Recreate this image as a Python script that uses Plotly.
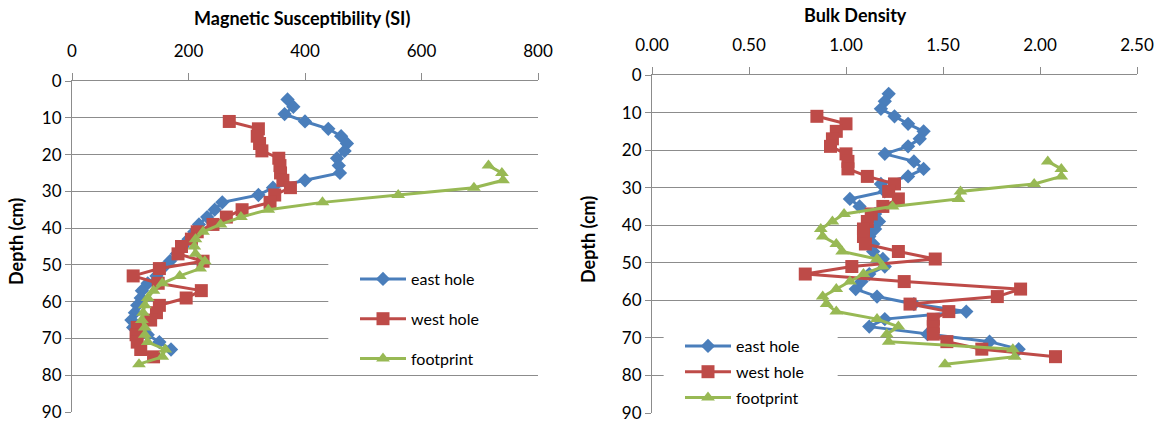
import plotly.graph_objects as go

# ---------------- data ----------------
# Magnetic susceptibility (SI) vs depth (cm)
ms_east_depth = [5, 7, 9, 11, 13, 15, 17, 19, 21, 23, 25, 27, 29, 31, 33, 35, 37, 39, 41, 43,
                 45, 47, 49, 51, 53, 55, 57, 59, 61, 63, 65, 67, 69, 71, 73]
ms_east = [370, 380, 365, 400, 440, 462, 472, 468, 455, 458, 460, 400, 345, 320, 258, 245, 232, 218, 210, 200,
           190, 180, 168, 155, 145, 130, 120, 118, 112, 108, 102, 105, 130, 150, 170]

ms_west_depth = [11, 13, 15, 17, 19, 21, 23, 25, 27, 29, 31, 33, 35, 37, 39, 41, 43, 45, 47, 49,
                 51, 53, 55, 57, 59, 61, 63, 65, 67, 69, 71, 73, 75]
ms_west = [270, 320, 318, 322, 326, 355, 357, 358, 362, 375, 348, 340, 292, 265, 242, 215, 205, 188, 182, 225,
           150, 105, 148, 222, 196, 150, 145, 135, 112, 110, 112, 118, 140]

ms_foot_depth = [23, 25, 27, 29, 31, 33, 35, 37, 39, 41, 43, 45, 47, 49, 51, 53, 55, 57, 59, 61,
                 63, 65, 67, 69, 71, 73, 75, 77]
ms_foot = [715, 738, 740, 690, 560, 430, 337, 290, 255, 225, 212, 210, 212, 228, 220, 185, 155, 140, 130, 125,
           122, 120, 125, 125, 130, 160, 155, 115]

# Bulk density vs depth (cm)
bd_east_depth = ms_east_depth
bd_east = [1.22, 1.20, 1.18, 1.25, 1.32, 1.40, 1.38, 1.32, 1.20, 1.35, 1.40, 1.32, 1.18, 1.20, 1.02, 1.07, 1.15,
           1.17, 1.15, 1.12, 1.14, 1.14, 1.19, 1.20, 1.12, 1.08, 1.05, 1.16, 1.35, 1.62, 1.20, 1.12, 1.42, 1.74, 1.89]

bd_west_depth = ms_west_depth
bd_west = [0.85, 1.00, 0.95, 0.93, 0.92, 1.00, 1.01, 1.01, 1.11, 1.25, 1.22, 1.27, 1.19, 1.13, 1.11, 1.09, 1.09,
           1.10, 1.27, 1.46, 1.03, 0.79, 1.30, 1.90, 1.78, 1.33, 1.53, 1.45, 1.45, 1.45, 1.52, 1.70, 2.08]

bd_foot_depth = ms_foot_depth
bd_foot = [2.04, 2.11, 2.11, 1.97, 1.59, 1.58, 1.24, 0.99, 0.93, 0.87, 0.88, 0.95, 0.98, 1.16, 1.19, 1.09, 1.02,
           0.95, 0.88, 0.90, 0.95, 1.16, 1.27, 1.21, 1.22, 1.86, 1.87, 1.51]

series_names = ["east hole", "west hole", "footprint"]
ms_ticks = [0, 200, 400, 600, 800]
bd_ticks = [0.0, 0.5, 1.0, 1.5, 2.0, 2.5]
depth_ticks = [0, 10, 20, 30, 40, 50, 60, 70, 80, 90]

# ---------------- styling ----------------
W, H = 1162, 427
FONT = "Lato"
BLUE, RED, GREEN = "#4A7EBB", "#BE4B48", "#98B954"
GRID = "#8C8C8C"
styles = [
    dict(color=BLUE, symbol="diamond", size=11),
    dict(color=RED, symbol="square", size=13),
    dict(color=GREEN, symbol="triangle-up", size=12),
]

fig = go.Figure()

ms_sets = [(ms_east, ms_east_depth), (ms_west, ms_west_depth), (ms_foot, ms_foot_depth)]
bd_sets = [(bd_east, bd_east_depth), (bd_west, bd_west_depth), (bd_foot, bd_foot_depth)]

for i, (xs, ys) in enumerate(ms_sets):
    st = styles[i]
    fig.add_trace(go.Scatter(
        x=xs, y=ys, mode="lines+markers", name=series_names[i],
        line=dict(color=st["color"], width=3),
        marker=dict(color=st["color"], symbol=st["symbol"], size=st["size"]),
        xaxis="x", yaxis="y", legend="legend", legendgroup="a%d" % i,
    ))
for i, (xs, ys) in enumerate(bd_sets):
    st = styles[i]
    fig.add_trace(go.Scatter(
        x=xs, y=ys, mode="lines+markers", name=series_names[i],
        line=dict(color=st["color"], width=3),
        marker=dict(color=st["color"], symbol=st["symbol"], size=st["size"]),
        xaxis="x2", yaxis="y2", legend="legend2", legendgroup="b%d" % i,
    ))

def px_x(p):
    return p / W

def px_y(p):
    return 1 - p / H

xaxis_common = dict(side="top", showgrid=False, zeroline=False, showline=True, linecolor=GRID,
                    linewidth=1, ticks="outside", ticklen=7, tickcolor=GRID, automargin=False,
                    tickfont=dict(family=FONT, size=17, color="#000"), ticklabelstandoff=9)
yaxis_common = dict(autorange=False, range=[90, 0], tickvals=depth_ticks, showgrid=True, gridcolor=GRID,
                    gridwidth=1, zeroline=False, showline=True, linecolor=GRID, linewidth=1,
                    ticks="outside", ticklen=6, tickcolor=GRID, automargin=False,
                    tickfont=dict(family=FONT, size=17, color="#000"))

title_font = dict(family=FONT, size=18, color="#000")

# white legend boxes that interrupt the gridlines (drawn between grid and traces)
legend_boxes = [
    dict(type="rect", xref="x", yref="y", x0=440, x1=800, y0=46, y1=77,
         fillcolor="white", line=dict(width=0), layer="between"),
    dict(type="rect", xref="x2", yref="y2", x0=0.06, x1=0.957, y0=66, y1=89.6,
         fillcolor="white", line=dict(width=0), layer="between"),
]

fig.update_layout(
    width=W, height=H,
    margin=dict(l=0, r=0, t=0, b=0),
    paper_bgcolor="white", plot_bgcolor="white",
    font=dict(family=FONT, color="#000"),
    xaxis=dict(domain=[px_x(72), px_x(538)], range=[0, 800], tickvals=ms_ticks, anchor="y", **xaxis_common),
    yaxis=dict(domain=[px_y(412), px_y(81)], anchor="x", **yaxis_common),
    xaxis2=dict(domain=[px_x(652), px_x(1137)], range=[0, 2.5], tickvals=bd_ticks, tickformat=".2f",
                anchor="y2", **xaxis_common),
    yaxis2=dict(domain=[px_y(413), px_y(75)], anchor="x2", **yaxis_common),
    legend=dict(x=px_x(355), y=px_y(262), xanchor="left", yanchor="top", bgcolor="rgba(0,0,0,0)",
                font=dict(family=FONT, size=16), tracegroupgap=16, itemwidth=46),
    legend2=dict(x=px_x(680), y=px_y(329), xanchor="left", yanchor="top", bgcolor="rgba(0,0,0,0)",
                 font=dict(family=FONT, size=16), tracegroupgap=2, itemwidth=46),
    shapes=legend_boxes,
    annotations=[
        dict(text="<b>Magnetic Susceptibility (SI)</b>", x=px_x(302), y=px_y(18), xref="paper", yref="paper",
             xanchor="center", yanchor="middle", showarrow=False, font=title_font),
        dict(text="<b>Bulk Density</b>", x=px_x(855), y=px_y(15), xref="paper", yref="paper",
             xanchor="center", yanchor="middle", showarrow=False, font=title_font),
        dict(text="<b>Depth (cm)</b>", x=px_x(16), y=px_y(242), xref="paper", yref="paper",
             xanchor="center", yanchor="middle", showarrow=False, textangle=-90, font=title_font),
        dict(text="<b>Depth (cm)</b>", x=px_x(588), y=px_y(240), xref="paper", yref="paper",
             xanchor="center", yanchor="middle", showarrow=False, textangle=-90, font=title_font),
    ],
)

fig.write_html("out.html", config={"displayModeBar": False},
               post_script="document.body.style.margin='0px';")
